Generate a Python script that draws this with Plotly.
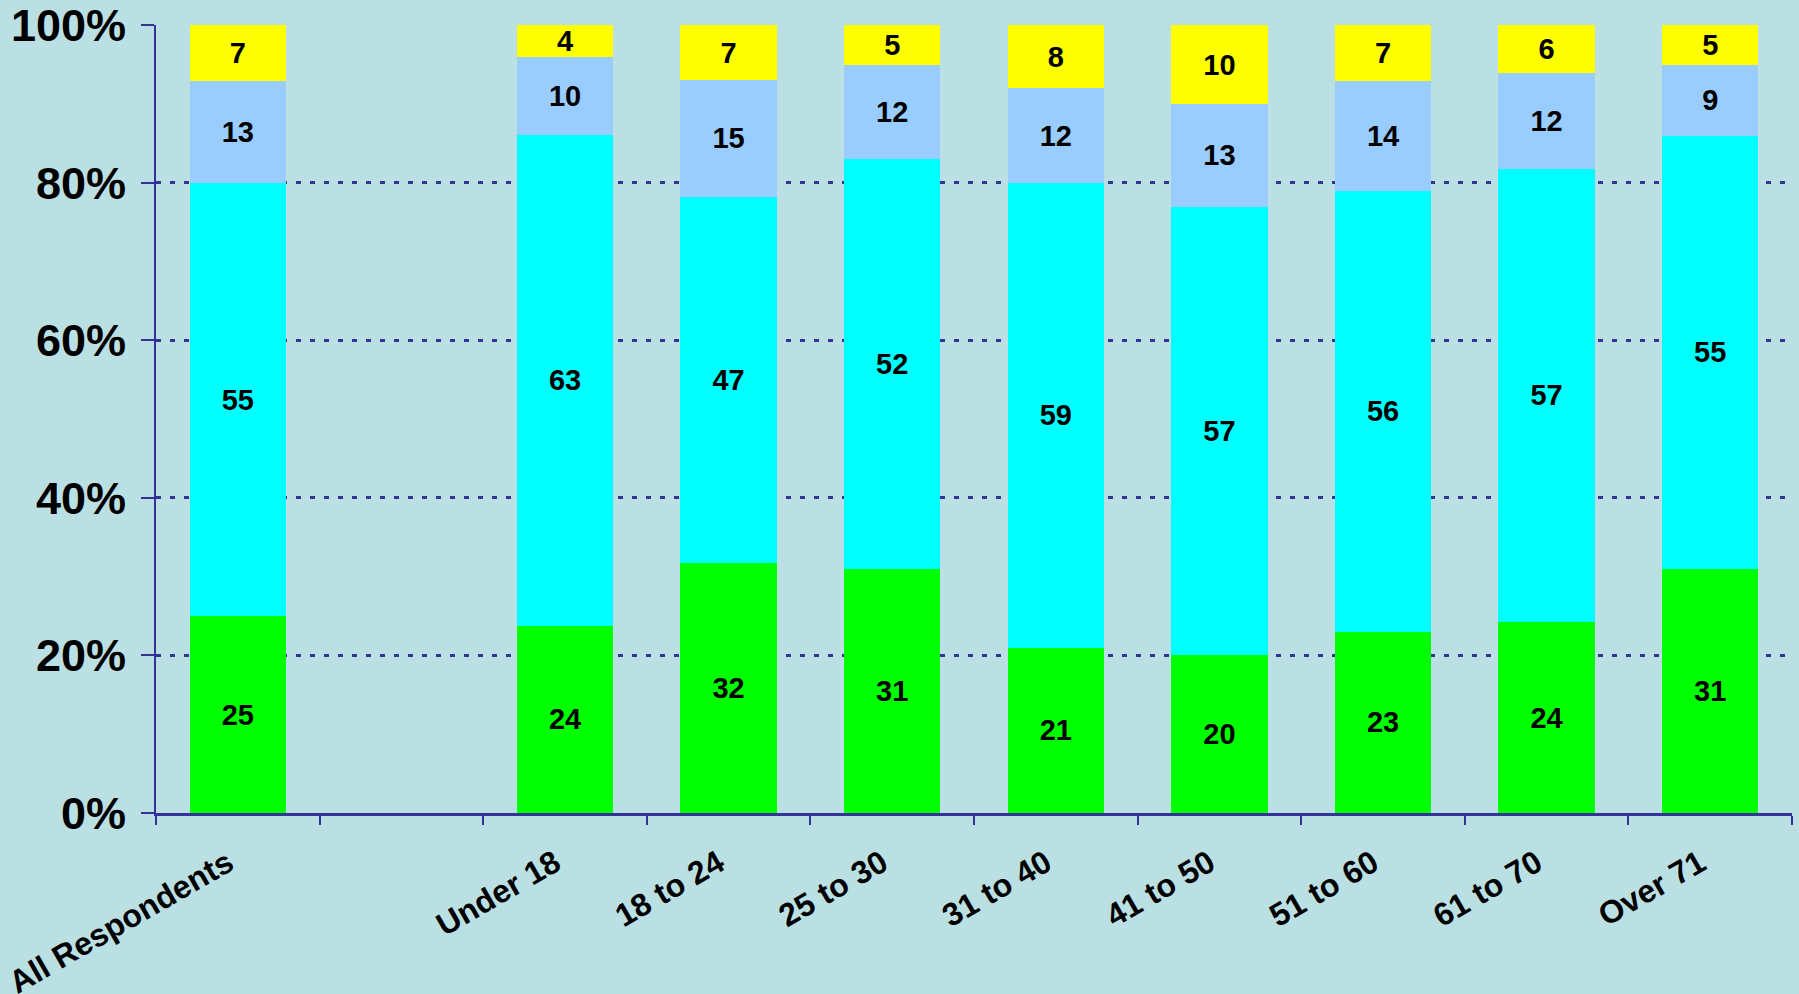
import plotly.graph_objects as go

# Age groups (second slot is an empty gap in the original chart)
categories = ["All Respondents", " ", "Under 18", "18 to 24", "25 to 30",
              "31 to 40", "41 to 50", "51 to 60", "61 to 70", "Over 71"]

# Percent values per segment, bottom to top (None = empty slot)
green_vals = [25, None, 24, 32, 31, 21, 20, 23, 24, 31]
cyan_vals = [55, None, 63, 47, 52, 59, 57, 56, 57, 55]
lightblue_vals = [13, None, 10, 15, 12, 12, 13, 14, 12, 9]
yellow_vals = [7, None, 4, 7, 5, 8, 10, 7, 6, 5]

y_ticks = [0, 20, 40, 60, 80, 100]
y_tick_labels = ["0%", "20%", "40%", "60%", "80%", "100%"]

series = [
    ("green", green_vals, "#00FF00"),
    ("cyan", cyan_vals, "#00FFFF"),
    ("light blue", lightblue_vals, "#99CCFF"),
    ("yellow", yellow_vals, "#FFFF00"),
]

bg = "#BBE0E3"
navy = "#333399"
font_family = "Liberation Sans, Arial, sans-serif"

fig = go.Figure()
for name, vals, color in series:
    fig.add_trace(go.Bar(
        name=name,
        x=categories,
        y=vals,
        marker=dict(color=color, line=dict(width=0)),
        text=["" if v is None else str(v) for v in vals],
        textposition="inside",
        insidetextanchor="middle",
        textangle=0,
        constraintext="none",
        textfont=dict(family=font_family, size=29, color="black", weight="bold"),
        showlegend=False,
    ))

fig.update_layout(
    barmode="stack",
    barnorm="percent",
    bargap=0.41,
    width=1799,
    height=994,
    margin=dict(l=156, r=7, t=25, b=181, autoexpand=False),
    paper_bgcolor=bg,
    plot_bgcolor=bg,
    font=dict(family=font_family, color="black"),
    uniformtext=dict(minsize=29, mode="show"),
)

fig.update_xaxes(
    type="category",
    categoryorder="array",
    categoryarray=categories,
    tickson="boundaries",
    ticks="outside",
    ticklen=9,
    tickcolor=navy,
    tickwidth=2,
    showline=True,
    linecolor=navy,
    linewidth=3,
    showgrid=False,
    automargin=False,
    tickangle=-30,
    ticklabelstandoff=16,
    ticklabelshift=-10,
    tickfont=dict(family=font_family, size=32, color="black", weight="bold"),
)

fig.update_yaxes(
    range=[0, 100.05],
    tickmode="array",
    tickvals=y_ticks,
    ticktext=y_tick_labels,
    ticks="outside",
    ticklen=13,
    tickcolor=navy,
    tickwidth=2,
    showline=True,
    linecolor=navy,
    linewidth=2,
    showgrid=True,
    gridcolor=navy,
    gridwidth=3,
    griddash="5px,9px",
    zeroline=False,
    automargin=False,
    ticklabelstandoff=6,
    tickfont=dict(family=font_family, size=45, color="black", weight="bold"),
)

fig.write_html("out.html", config={"displayModeBar": False},
               post_script="document.body.style.margin='0';")
